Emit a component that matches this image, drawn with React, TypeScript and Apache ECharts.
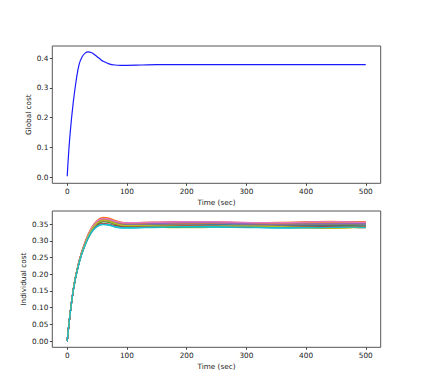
import React, { useEffect, useRef } from "react";
import * as echarts from "echarts";

const globalTimes = [0, 2, 5, 10, 15, 20, 25, 30, 35, 40, 45, 50, 55, 60, 70, 80, 90, 100, 125, 150, 200, 250, 300, 350, 400, 450, 500];
const globalCost = [0.003, 0.07, 0.15, 0.25, 0.325, 0.38, 0.405, 0.417, 0.421, 0.419, 0.413, 0.405, 0.397, 0.39, 0.381, 0.377, 0.376, 0.376, 0.377, 0.378, 0.378, 0.378, 0.378, 0.378, 0.378, 0.378, 0.378];

const indTimes = [0, 10, 20, 30, 40, 50, 60, 70, 80, 90, 100, 130, 160, 200, 240, 280, 320, 360, 400, 440, 480, 500];

const ind01 = [0, .151, .237, .291, .329, .351, .359, .357, .351, .346, .344, .345, .346, .347, .346, .344, .343, .344, .346, .347, .346, .345];
const ind02 = [0, .153, .241, .297, .337, .361, .370, .368, .361, .356, .354, .355, .356, .357, .356, .355, .354, .355, .357, .358, .357, .357];
const ind03 = [0, .152, .238, .292, .331, .353, .361, .359, .352, .347, .345, .344, .343, .344, .345, .346, .345, .344, .343, .344, .345, .345];
const ind04 = [0, .153, .240, .295, .335, .358, .367, .365, .358, .353, .352, .353, .355, .357, .356, .354, .352, .353, .354, .355, .355, .354];
const ind05 = [0, .152, .239, .294, .333, .356, .364, .362, .356, .352, .351, .352, .354, .356, .355, .353, .351, .352, .355, .357, .356, .355];
const ind06 = [0, .152, .238, .293, .332, .355, .363, .361, .354, .349, .347, .347, .346, .345, .346, .347, .348, .347, .345, .343, .342, .341];
const ind07 = [0, .152, .239, .294, .333, .356, .365, .363, .357, .353, .352, .353, .355, .356, .355, .353, .351, .352, .354, .355, .354, .353];
const ind08 = [0, .152, .238, .293, .332, .354, .362, .360, .354, .350, .349, .350, .351, .352, .352, .351, .350, .350, .351, .352, .352, .351];
const ind09 = [0, .151, .237, .291, .329, .351, .359, .357, .350, .345, .343, .342, .340, .339, .340, .341, .342, .340, .338, .337, .339, .340];
const ind10 = [0, .150, .234, .287, .323, .342, .348, .346, .341, .338, .338, .339, .340, .341, .341, .340, .339, .338, .339, .340, .340, .339];
const ind11 = [0, .152, .238, .292, .331, .353, .361, .359, .353, .349, .348, .348, .349, .350, .349, .347, .346, .346, .347, .348, .348, .347];
const ind12 = [0, .152, .239, .293, .333, .355, .363, .361, .355, .351, .350, .351, .352, .353, .353, .352, .352, .353, .354, .356, .356, .356];
const ind13 = [0, .151, .236, .290, .328, .349, .357, .355, .349, .344, .342, .341, .341, .342, .343, .343, .342, .341, .341, .342, .343, .343];
const ind14 = [0, .151, .236, .289, .326, .346, .352, .350, .345, .342, .341, .342, .344, .345, .344, .342, .341, .341, .342, .343, .343, .342];
const ind15 = [0, .152, .238, .293, .332, .354, .362, .360, .354, .350, .349, .350, .352, .354, .354, .352, .350, .349, .350, .351, .351, .350];
const ind16 = [0, .151, .237, .291, .330, .352, .360, .358, .352, .347, .345, .344, .343, .343, .344, .345, .346, .345, .343, .341, .340, .339];
const ind17 = [0, .153, .240, .296, .336, .359, .367, .365, .359, .355, .354, .355, .356, .357, .357, .356, .354, .354, .356, .357, .356, .355];
const ind18 = [0, .152, .237, .292, .330, .352, .360, .358, .352, .348, .347, .347, .348, .348, .347, .346, .346, .347, .348, .349, .348, .347];
const ind19 = [0, .152, .238, .292, .331, .353, .361, .359, .352, .347, .345, .345, .344, .343, .343, .344, .344, .342, .340, .339, .340, .341];
const ind20 = [0, .150, .235, .288, .325, .344, .350, .348, .343, .340, .339, .340, .341, .342, .342, .341, .340, .339, .339, .340, .341, .340];

const individualSeries = [ind01, ind02, ind03, ind04, ind05, ind06, ind07, ind08, ind09, ind10, ind11, ind12, ind13, ind14, ind15, ind16, ind17, ind18, ind19, ind20];

const tab10 = ["#1f77b4", "#ff7f0e", "#2ca02c", "#d62728", "#9467bd", "#8c564b", "#e377c2", "#7f7f7f", "#bcbd22", "#17becf"];

const xTicks = [0, 100, 200, 300, 400, 500];
const yTicksTop = [0, 0.1, 0.2, 0.3, 0.4];
const yTicksBottom = [0, 0.05, 0.1, 0.15, 0.2, 0.25, 0.3, 0.35];

export default function App() {
  const ref = useRef<HTMLDivElement>(null);
  useEffect(() => {
    if (!ref.current) return;
    const chart = echarts.init(ref.current, null, { renderer: "svg" });
    const font = "DejaVu Sans";
    const textColor = "#1a1a1a";
    const fs = 7.3;
    const mkX = (gridIndex: number) => ({
      type: "value",
      gridIndex,
      min: -25,
      max: 525,
      name: "Time (sec)",
      nameLocation: "middle",
      nameGap: 16,
      nameMoveOverlap: false,
      nameTextStyle: { fontFamily: font, fontSize: fs, color: textColor },
      axisLine: { show: false, onZero: false },
      splitLine: { show: false },
      axisTick: { show: true, customValues: xTicks, length: 2.5, lineStyle: { color: "#444" } },
      axisLabel: {
        customValues: xTicks,
        fontFamily: font,
        fontSize: fs,
        color: textColor,
        margin: 5,
        formatter: (v: number) => String(Math.round(v)),
      },
    });
    const mkY = (gridIndex: number, min: number, max: number, ticks: number[], dec: number, name: string, gap: number) => ({
      type: "value",
      gridIndex,
      min,
      max,
      name,
      nameLocation: "middle",
      nameGap: gap,
      nameMoveOverlap: false,
      nameTextStyle: { fontFamily: font, fontSize: fs, color: textColor },
      axisLine: { show: false, onZero: false },
      splitLine: { show: false },
      axisTick: { show: true, customValues: ticks, length: 2.5, lineStyle: { color: "#444" } },
      axisLabel: {
        customValues: ticks,
        fontFamily: font,
        fontSize: fs,
        color: textColor,
        margin: 4,
        formatter: (v: number) => v.toFixed(dec),
      },
    });
    const series: any[] = [
      {
        type: "line",
        xAxisIndex: 0,
        yAxisIndex: 0,
        data: globalTimes.map((t, i) => [t, globalCost[i]]),
        showSymbol: false,
        smooth: 0.4,
        lineStyle: { color: "#1a1aff", width: 1.2 },
      },
    ];
    individualSeries.forEach((vals, k) => {
      series.push({
        type: "line",
        xAxisIndex: 1,
        yAxisIndex: 1,
        data: indTimes.map((t, i) => [t, vals[i]]),
        showSymbol: false,
        smooth: 0.4,
        lineStyle: { color: tab10[k % 10], width: 1.3 },
      });
    });
    chart.setOption({
      animation: false,
      backgroundColor: "#fff",
      grid: [
        { left: 52.3, top: 46, width: 328.4, height: 137.3, show: true, borderColor: "#555", borderWidth: 1, backgroundColor: "transparent" },
        { left: 52.3, top: 211, width: 328.4, height: 136.3, show: true, borderColor: "#555", borderWidth: 1, backgroundColor: "transparent" },
      ],
      xAxis: [mkX(0), mkX(1)],
      yAxis: [
        mkY(0, -0.021, 0.441, yTicksTop, 1, "Global cost", 20),
        mkY(1, -0.0185, 0.389, yTicksBottom, 2, "Individual cost", 25),
      ],
      series,
    });
    return () => chart.dispose();
  }, []);
  return <div ref={ref} style={{ position: "absolute", left: 0, top: 0, width: 423, height: 391 }} />;
}
